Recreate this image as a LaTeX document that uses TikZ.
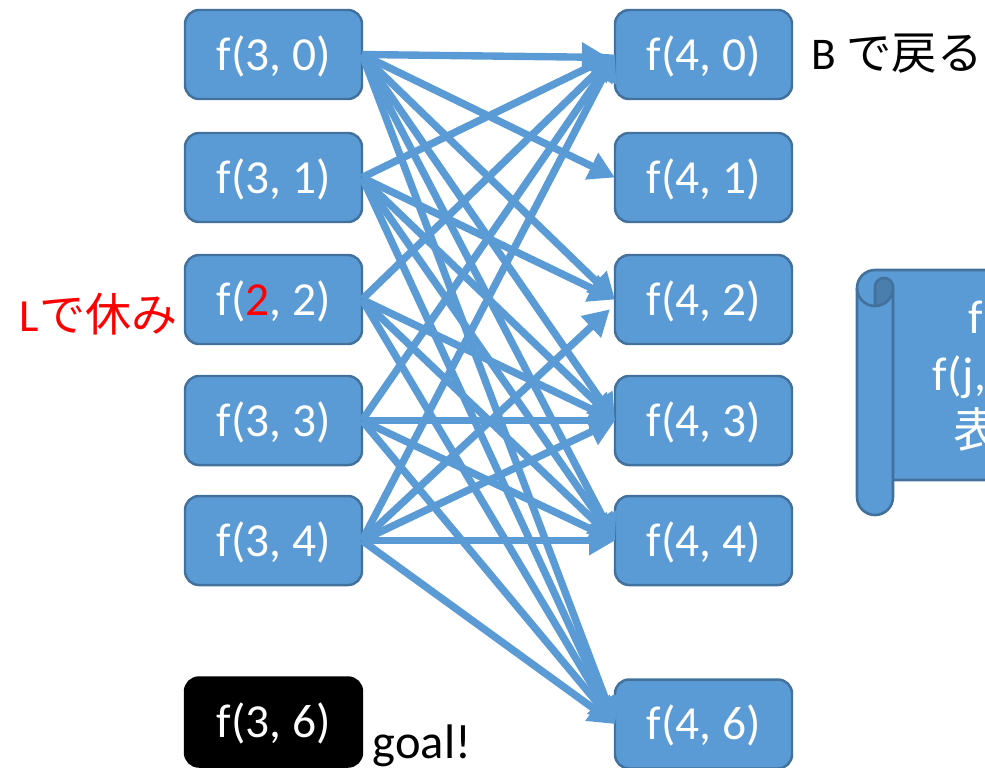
\documentclass[tikz,border=0pt]{standalone}
\usepackage{fontspec}
\setmainfont{Carlito}
\newfontfamily\jpfont{Noto Sans CJK JP}
\usetikzlibrary{positioning,arrows.meta}
\definecolor{boxblue}{HTML}{5B9BD5}
\definecolor{boxline}{HTML}{41719C}
\definecolor{curlblue}{HTML}{4A7EAD}
\tikzset{
every node/.style={font=\fontsize{13.5}{16}\selectfont}
, statenode/.style={rounded corners=0.14cm,draw=boxline,fill=boxblue,line width=0.7pt,
    text=white,inner sep=0,outer sep=0,minimum width=1.77cm,minimum height=0.89cm,
    text height=0.39cm,text depth=0.08cm}
, goalnode/.style={statenode,draw=black,fill=black}
, flow/.style={draw=boxblue,line width=2.1pt,-{Triangle[length=0.26cm,width=0.28cm]}}
, scrollpart/.style={draw=boxline,fill=boxblue,line width=0.75pt}
, scrolltext/.style={text=white,inner sep=0,anchor=base west}}
\begin{document}
\begin{tikzpicture}
\useasboundingbox (0,0) rectangle (9.85,-7.67);
\node[statenode] at (2.735,-0.545) (f30) {f(3, 0)};
\node[statenode, below=0.34 of f30] (f31) {f(3, 1)};
\node[statenode, below=0.33 of f31] (f22) {f(\textcolor{red}{2}, 2)};
\node[statenode, below=0.32 of f22] (f33) {f(3, 3)};
\node[statenode, below=0.31 of f33] (f34) {f(3, 4)};
\node[goalnode] at (2.735,-7.22) (f36) {f(3, 6)};
\node[statenode] at (7.035,-0.545) (f40) {f(4, 0)};
\node[statenode, below=0.34 of f40] (f41) {f(4, 1)};
\node[statenode, below=0.33 of f41] (f42) {f(4, 2)};
\node[statenode, below=0.32 of f42] (f43) {f(4, 3)};
\node[statenode, below=0.31 of f43] (f44) {f(4, 4)};
\node[statenode] at (7.035,-7.24) (f46) {f(4, 6)};
\node[right=0.19 of f40, yshift=0.01cm, inner sep=0, font=\fontsize{12.9}{15}\selectfont] (back) {B {\jpfont で戻る}};
\node[left=0.07 of f22, yshift=-0.15cm, inner sep=0, text=red, font=\fontsize{13.1}{16}\selectfont] (rest) {L{\jpfont で休み}};
\node[right=0.1 of f36, yshift=-0.24cm, inner sep=0, font=\fontsize{13.8}{16}\selectfont] (goal) {goal!};
% scroll on the right
\draw[scrollpart] (8.93,-4.8) -- (10.1,-4.8) -- (10.1,-2.7) -- (8.75,-2.7)
  arc[start angle=90,end angle=180,radius=0.18] -- (8.57,-4.97)
  arc[start angle=180,end angle=360,radius=0.18] -- (8.93,-2.88);
\draw[draw=boxline,fill=curlblue,line width=0.75pt] (8.75,-3.05) -- (8.75,-2.87)
  arc[start angle=180,end angle=0,radius=0.09] -- (8.93,-2.88)
  arc[start angle=0,end angle=-90,radius=0.18] -- cycle;
\draw[draw=boxline,line width=0.75pt] (8.57,-2.88) arc[start angle=180,end angle=270,radius=0.18];
\node[scrolltext] at (9.68,-3.33) (line1) {f};
\node[scrolltext] at (9.32,-3.9) (line2) {f(j,};
\node[scrolltext] at (9.53,-4.47) (line3) {\jpfont 表};
% edges
\draw [flow, shorten >=0.07cm] (f30.east) -- ([yshift=-0.03cm]f40.west);
\draw [flow] (f30.east) -- (f41.west);
\draw [flow] (f30.east) -- (f42.west);
\draw [flow] (f30.east) -- (f43.west);
\draw [flow] (f30.east) -- (f44.west);
\draw [flow] (f30.east) -- (f46.west);
\draw [flow] (f31.east) -- (f40.west);
\draw [flow] (f31.east) -- (f42.west);
\draw [flow] (f31.east) -- (f43.west);
\draw [flow] (f31.east) -- (f44.west);
\draw [flow] (f31.east) -- (f46.west);
\draw [flow] (f22.east) -- (f40.west);
\draw [flow] (f22.east) -- (f43.west);
\draw [flow] (f22.east) -- (f44.west);
\draw [flow] (f22.east) -- (f46.west);
\draw [flow] (f33.east) -- (f40.west);
\draw [flow] (f33.east) -- (f43.west);
\draw [flow] (f33.east) -- (f44.west);
\draw [flow] (f33.east) -- (f46.west);
\draw [flow] (f34.east) -- (f40.west);
\draw [flow, shorten >=0.07cm] (f34.east) -- ([yshift=-0.05cm]f42.west);
\draw [flow] (f34.east) -- (f43.west);
\draw [flow] (f34.east) -- (f44.west);
\draw [flow] (f34.east) -- (f46.west);
\end{tikzpicture}
\end{document}
